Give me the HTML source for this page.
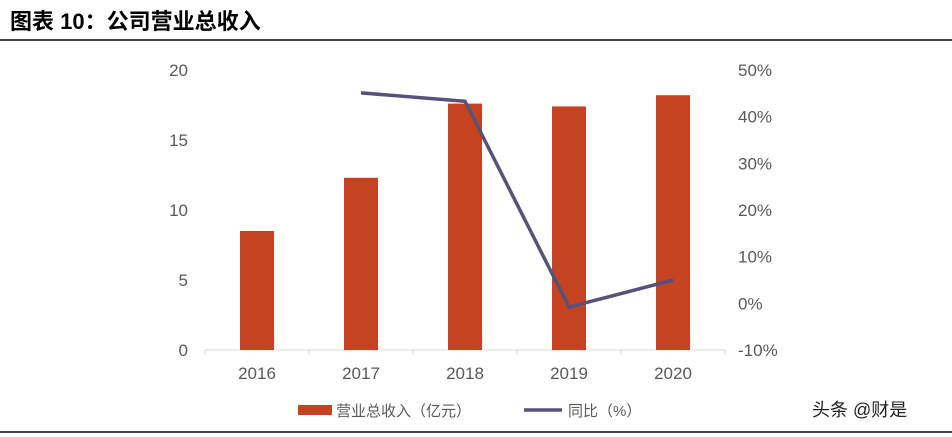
<!DOCTYPE html>
<html><head><meta charset="utf-8"><style>
body{margin:0;width:952px;height:437px;background:#fff;overflow:hidden;font-family:"Liberation Sans","Noto Sans CJK SC",sans-serif;}
#title{position:absolute;left:10px;top:4px;font-size:22px;font-weight:bold;color:#000;}
svg{position:absolute;left:0;top:0}
</style></head><body>
<div id="title">图表 10：公司营业总收入</div>
<svg id="c" width="952" height="437"></svg>
<script>
const categories=["2016","2017","2018","2019","2020"];
const revenue=[8.5,12.3,17.6,17.4,18.2];
const yoy=[null,45.1,43.3,-0.8,5.0];
const leftTicks=[0,5,10,15,20];
const rightTicks=[-10,0,10,20,30,40,50];
const NS="http://www.w3.org/2000/svg";
const svg=document.getElementById('c');
function el(t,a,txt){const e=document.createElementNS(NS,t);for(const k in a)e.setAttribute(k,a[k]);if(txt!=null)e.textContent=txt;svg.appendChild(e);return e;}
const x0=205,x1=725,yTop=70,yBot=350;
const band=(x1-x0)/categories.length;
const xs=i=>x0+band*(i+0.5);
const yL=v=>yBot-(v/20)*(yBot-yTop);
const yR=v=>yBot-((v+10)/60)*(yBot-yTop);
let e;
e=el('line',{x1:0,y1:40,x2:952,y2:40,stroke:'#000','stroke-width':1.5});

e=el('line',{x1:0,y1:432,x2:952,y2:432,stroke:'#000','stroke-width':1.5});

leftTicks.forEach(v=>{const t=el('text',{x:188,y:yL(v)+6,'text-anchor':'end','font-size':17,fill:'#595959'},v);
});
rightTicks.forEach(v=>{const t=el('text',{x:738,y:yR(v)+6,'font-size':17,fill:'#595959'},v+'%');
});
e=el('line',{x1:x0,y1:yBot,x2:x1,y2:yBot,stroke:'#d9d9d9','stroke-width':1});

for(let i=0;i<=categories.length;i++){const t=el('line',{x1:x0+band*i,y1:yBot,x2:x0+band*i,y2:yBot+5,stroke:'#d9d9d9'});
}
categories.forEach((c,i)=>{
const b=el('rect',{x:xs(i)-17,y:yL(revenue[i]),width:34,height:yBot-yL(revenue[i]),fill:'#c64322'});

const t=el('text',{x:xs(i),y:379,'text-anchor':'middle','font-size':17,fill:'#595959'},c);
});
let pts=[];yoy.forEach((v,i)=>{if(v!=null)pts.push(xs(i)+','+yR(v));});
e=el('polyline',{points:pts.join(' '),fill:'none',stroke:'#56527a','stroke-width':3.5});

e=el('rect',{x:298,y:405,width:34,height:10,fill:'#c64322'});

e=el('text',{x:336,y:416,'font-size':15,fill:'#595959'},'营业总收入（亿元）');

e=el('line',{x1:524,y1:410,x2:562,y2:410,stroke:'#56527a','stroke-width':3.5});

e=el('text',{x:568,y:416,'font-size':15,fill:'#595959'},'同比（%）');

e=el('text',{x:812,y:416,'font-size':18,fill:'#222'},'头条 @财是');

</script>
</body></html>
